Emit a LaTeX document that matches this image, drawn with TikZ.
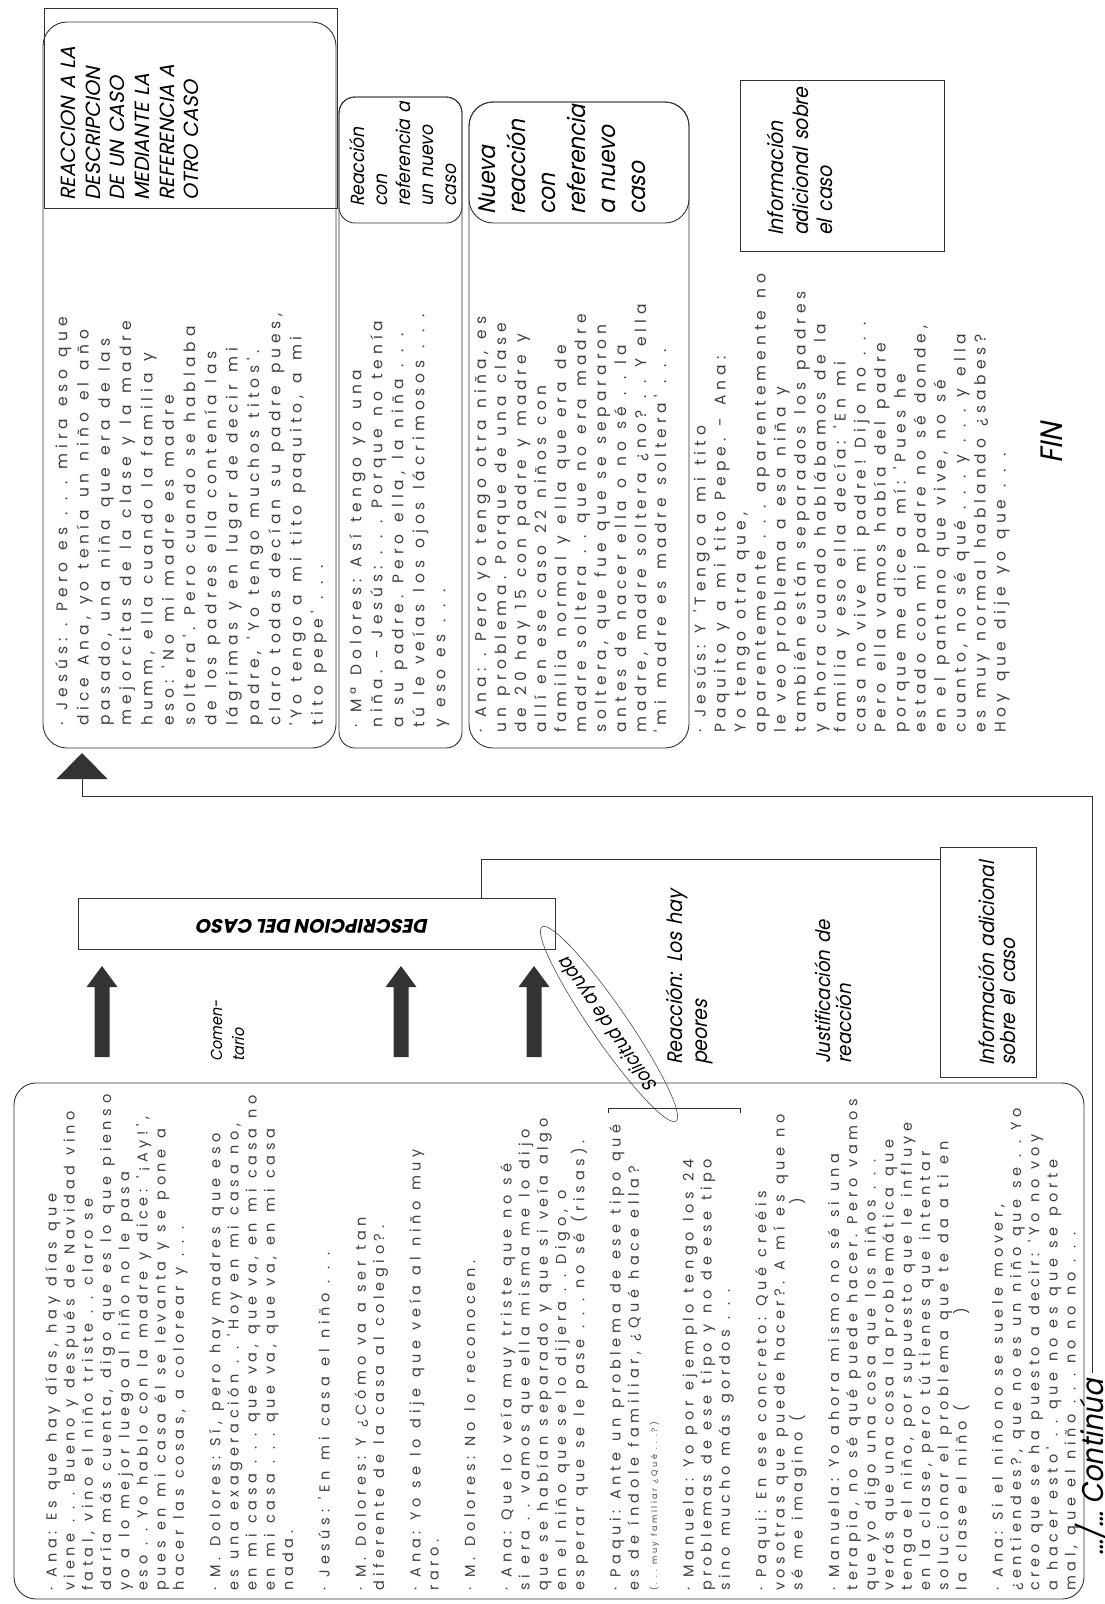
\documentclass[tikz,border=0pt]{standalone}
\usepackage{fontspec}
\setmainfont{Poppins}
\newfontfamily\dlgfont[LetterSpace=32]{Poppins}
\newfontfamily\lblfont[FakeSlant=0.2,FakeStretch=0.9]{Poppins}
\newfontfamily\capfont[FakeSlant=0.2]{Poppins}
\newcommand{\talkfont}[2]{\dlgfont\fontsize{#1}{#2}\selectfont}
\newcommand{\tsp}[1]{\spaceskip=#1\relax\xspaceskip=#1\relax}
\usetikzlibrary{arrows.meta,shapes.geometric,positioning}

\begin{document}
\begin{tikzpicture}[x=1pt,y=-1pt,
    dlg/.style={rotate=90,anchor=north west,inner sep=0pt,text width=600pt,text=black!75},
    lbl/.style={rotate=90,anchor=north west,inner sep=0pt,align=left,text width=300pt},
    frame/.style={draw=black!80,line width=0.9pt},
    link/.style={draw=black!80,line width=0.8pt}]
  \useasboundingbox (0,0) rectangle (1104,1604);
  \fill[white] (0,0) rectangle (1104,1604);

  % right page: reactions
  \draw[frame] (44,8) rectangle (337,208);
  \draw[frame,rounded corners=24pt] (43,22) rectangle (336,748);
  \draw[frame,rounded corners=16pt] (339,97) rectangle (462,748);
  \draw[frame,rounded corners=16pt] (339,97) rectangle (462,223);
  \draw[frame,rounded corners=24pt] (469,102) rectangle (689,748);
  \draw[frame,rounded corners=24pt] (469,102) rectangle (689,223);
  \draw[frame] (740,80) rectangle (944,251);

  \node[lbl,font=\capfont\fontsize{20.5}{24.6}\selectfont] (title) at (61,201)
    {REACCION A LA\\DESCRIPCION\\DE UN CASO\\MEDIANTE LA\\REFERENCIA A\\OTRO CASO};
  \node[lbl,font=\lblfont\fontsize{19}{23}\selectfont] (lab_2) at (349,207)
    {Reacción\\con\\referencia a\\un nuevo\\caso};
  \node[lbl,font=\lblfont\fontsize{24}{30}\selectfont] (lab_3) at (479,215)
    {Nueva\\reacción\\con\\referencia\\a nuevo\\caso};
  \node[lbl,font=\lblfont\fontsize{21}{24.5}\selectfont] (lab_4) at (767,236)
    {Información\\adicional sobre\\el caso};
  \node[rotate=90,font=\lblfont\fontsize{31}{31}\selectfont] (fin) at (1052,443) {FIN};

  \node[dlg,font=\talkfont{15.5}{21.3}] (talk_1) at (55,726)
    {\tsp{12pt}· Jesús: . Pero es . . . mira eso que\\
     dice Ana, yo tenía un niño el año\\
     pasado, una niña que era de las\\
     mejorcitas de la clase y la madre\\
     humm, ella cuando la familia y\\
     eso: 'No mi madre es madre\\
     soltera'. Pero cuando se hablaba\\
     de los padres ella contenía las\\
     lágrimas y en lugar de decir mi\\
     padre, 'Yo tengo muchos titos'.\\
     claro todas decían su padre pues,\\
     'Yo tengo a mi tito paquito, a mi\\
     tito pepe' . . .};
  \node[dlg,font=\talkfont{15.5}{21}] (talk_2) at (349,728)
    {\tsp{12pt}· Mª Dolores: Así tengo yo una\\
     niña. - Jesús: . . . Porque no tenía\\
     a su padre. Pero ella, la niña . . .\\
     tú le veías los ojos lácrimosos . . .\\
     y eso es . . .};
  \node[dlg,font=\talkfont{15.5}{20}] (talk_3) at (474,733)
    {\tsp{12pt}· Ana: . Pero yo tengo otra niña, es\\
     un problema. Porque de una clase\\
     de 20 hay 15 con padre y madre y\\
     allí en ese caso 22 niños con\\
     familia normal y ella que era de\\
     madre soltera . . que no era madre\\
     soltera, que fue que se separaron\\
     antes de nacer ella o no sé . . la\\
     madre, madre soltera ¿no? . . Y ella\\
     'mi madre es madre soltera' . . .};
  \node[dlg,font=\talkfont{15.5}{20}] (talk_4) at (693,733)
    {\tsp{12pt}· Jesús: Y 'Tengo a mi tito\\
     Paquito y a mi tito Pepe. - Ana:\\
     Yo tengo otra que,\\
     aparentemente . . . aparentemente no\\
     le veo problema a esa niña y\\
     también están separados los padres\\
     y ahora cuando hablábamos de la\\
     familia y eso ella decía: 'En mi\\
     casa no vive mi padre! Dijo no . . .\\
     Pero ella vamos había del padre\\
     porque me dice a mí: 'Pues he\\
     estado con mi padre no sé donde,\\
     en el pantano que vive, no sé\\
     cuanto, no sé qué . . . y . . . y ella\\
     es muy normal hablando ¿sabes?\\
     Hoy que dije yo que . . .};

  % left page: the case
  \draw[frame,rounded corners=22pt] (14,1083) rectangle (1084,1599);
  \node[frame,minimum width=477pt,minimum height=51pt,inner sep=0pt] (desc) at (316.5,923.5) {};
  \node[rotate=180,font=\capfont\bfseries\fontsize{19.5}{20}\selectfont] (desc_t) at (313,926) {DESCRIPCION DEL CASO};
  \node[frame,minimum width=96pt,minimum height=230pt,inner sep=0pt] (info_2) at (988,962) {};

  \foreach \ax in {102,401,534}
    \fill[black!80] (\ax-7.5,1057) -- (\ax-7.5,987) -- (\ax-15.5,987) -- (\ax,966)
      -- (\ax+15.5,987) -- (\ax+7.5,987) -- (\ax+7.5,1057) -- cycle;

  \node[lbl,font=\lblfont\fontsize{16}{22}\selectfont] (coment) at (211,1062) {Comen-\\tario};
  \node[lbl,font=\lblfont\fontsize{21}{25}\selectfont] (peores) at (666,1065) {Reacción: Los hay\\peores};
  \node[lbl,font=\lblfont\fontsize{20}{21}\selectfont] (justif) at (815,1064) {Justificación de\\reacción};
  \node[lbl,font=\lblfont\fontsize{20.5}{21}\selectfont] (lab_5) at (978,1066) {Información adicional\\sobre el caso};

  \node[draw=black!70,line width=0.6pt,ellipse,rotate=124.6,minimum width=236pt,minimum height=36pt,
    inner sep=0pt,font=\lblfont\fontsize{19}{19}\selectfont] (help) at (609,1024) {Solicitud de ayuda};
  \draw[link] (608,1113) -- (608,1108) -- (740,1108) -- (740,1113);

  \node[dlg,font=\talkfont{14.5}{18.2}] (talk_5) at (45,1591)
    {\tsp{10.5pt}· Ana: Es que hay días, hay días que\\
     viene . . . Bueno y después de Navidad vino\\
     fatal, vino el niño triste . . claro se\\
     daría más cuenta, digo que es lo que pienso\\
     yo a lo mejor luego al niño no le pasa\\
     eso . . Yo hablo con la madre y dice: '¡Ay!',\\
     pues en mi casa él se levanta y se pone a\\
     hacer las cosas, a colorear y . . .\\[18.2pt]
     · M. Dolores: Sí, pero hay madres que eso\\
     es una exageración . . 'Hoy en mi casa no,\\
     en mi casa . . . que va, que va, en mi casa no\\
     en mi casa . . . que va, que va, en mi casa\\
     nada.\\[18.2pt]
     · Jesús: 'En mi casa el niño . . .\\[18.2pt]
     · M. Dolores: Y ¿Cómo va a ser tan\\
     diferente de la casa al colegio?.\\[18.2pt]
     · Ana: Yo se lo dije que veía al niño muy\\
     raro.\\[18.2pt]
     · M. Dolores: No lo reconocen.\\[18.2pt]
     · Ana: Que lo veía muy triste que no sé\\
     si era . . vamos que ella misma me lo dijo\\
     que se habían separado y que si veía algo\\
     en el niño que se lo dijera . . Digo, o\\
     esperar que se le pase . . . no sé (risas).\\[18.2pt]
     · Paqui: Ante un problema de ese tipo qué\\
     es de índole familiar, ¿Qué hace ella?\\
     {\fontsize{8}{18.2}\selectfont\tsp{5pt}(. . . muy familiar ¿Qué . . .?)}\\[18.2pt]
     · Manuela: Yo por ejemplo tengo los 24\\
     problemas de ese tipo y no de ese tipo\\
     sino mucho más gordos . . .\\[18.2pt]
     · Paqui: En ese concreto: Qué creéis\\
     vosotras que puede hacer?. A mí es que no\\
     sé me imagino (\hspace{210pt})\\[18.2pt]
     · Manuela: Yo ahora mismo no sé si una\\
     terapia, no sé qué puede hacer. Pero vamos\\
     que yo digo una cosa que los niños . . .\\
     verás que una cosa la problemática que\\
     tenga el niño, por supuesto que le influye\\
     en la clase, pero tú tienes que intentar\\
     solucionar el problema que te da a ti en\\
     la clase el niño (\hspace{90pt})\\[18.2pt]
     · Ana: Si el niño no se suele mover,\\
     ¿entiendes?, que no es un niño que se . . Yo\\
     creo que se ha puesto a decir: 'Yo no voy\\
     a hacer esto' . . que no es que se porte\\
     mal, que el niño . . . no no no . . .};

  % links between the parts
  \node[rotate=90,anchor=west,inner sep=0pt,font=\lblfont\fontsize{30}{30}\selectfont] (cont) at (1092,1556) {\dots/\dots\ Continúa};
  \coordinate (turn_1) at (1092,796);
  \coordinate (turn_2) at (82,796);
  \coordinate (tip_1) at (82,753);
  \draw[link,shorten <=6pt,-{Triangle[length=26pt,width=51pt]}] (cont.east) -- (turn_1) -- (turn_2) -- (tip_1);
  \coordinate (knee_1) at (481,859);
  \draw[link] (desc.north -| knee_1) -- (knee_1) -- (knee_1 -| info_2.west);
\end{tikzpicture}
\end{document}
